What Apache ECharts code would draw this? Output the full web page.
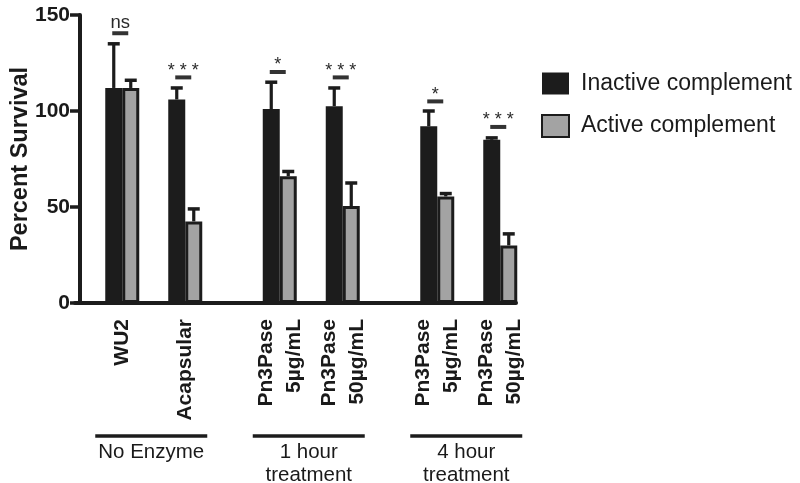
<!DOCTYPE html>
<html>
<head>
<meta charset="utf-8">
<script src="https://cdn.jsdelivr.net/npm/echarts@6/dist/echarts.min.js"></script>
<style>
html,body{margin:0;padding:0;background:#fff;}
#chart{width:800px;height:483px;}
</style>
</head>
<body>
<div id="chart"></div>
<script>
// ---- data ----
const categories = ['', 'WU2', '', 'Acapsular', '', '', 'Pn3Pase\n5µg/mL', '', 'Pn3Pase\n50µg/mL', '', '', 'Pn3Pase\n5µg/mL', '', 'Pn3Pase\n50µg/mL'];
const inactive    = [null, 112, null, 106, null, null, 101, null, 102.5, null, null, 92, null, 85];
const inactiveErr = [null, 135, null, 112, null, null, 115, null, 112, null, null, 100, null, 86];
const active      = [null, 112, null, 42.5, null, null, 66, null, 50.5, null, null, 55.5, null, 30];
const activeErr   = [null, 116, null, 49, null, null, 68.5, null, 62.5, null, null, 57, null, 36];
const sigIndex  = [1, 3, 6, 8, 11, 13];
const sigLevel  = [140.5, 117.5, 120.3, 117.5, 105, 91.7];
const sigLabels = ['ns', '* * *', '*', '* * *', '*', '* * *'];
const groups = [
  {first: 1, last: 3, text: 'No Enzyme'},
  {first: 6, last: 8, text: '1 hour\ntreatment'},
  {first: 11, last: 13, text: '4 hour\ntreatment'}
];
const yTicks = {min: 0, max: 150, interval: 50};

const BAR_W = 17;
const DARK = '#1c1c1c';
const GREY = '#a3a3a3';
const FONT = 'Liberation Sans, Arial, sans-serif';

function errData(vals, errs) {
  const out = [];
  vals.forEach((v, i) => { if (v != null) out.push([i, v, errs[i]]); });
  return out;
}

function errRender(offset) {
  return function (params, api) {
    const base = api.coord([api.value(0), api.value(1)]);
    const top = api.coord([api.value(0), api.value(2)]);
    const x = base[0] + offset;
    return {
      type: 'group',
      children: [
        {type: 'line', shape: {x1: x, y1: base[1], x2: x, y2: top[1]}, style: {stroke: DARK, lineWidth: 3.2}},
        {type: 'line', shape: {x1: x - 6, y1: top[1], x2: x + 6, y2: top[1]}, style: {stroke: DARK, lineWidth: 3.5}}
      ]
    };
  };
}

const chart = echarts.init(document.getElementById('chart'), null, {renderer: 'canvas'});
const option = {
  animation: false,
  backgroundColor: '#ffffff',
  grid: {left: 75, top: 15, width: 441, bottom: 180, containLabel: false, outerBoundsMode: 'none'},
  legend: {
    orient: 'vertical', left: 541, top: 72, padding: 0, itemWidth: 27, itemHeight: 22, itemGap: 19,
    icon: 'rect',
    data: ['Inactive complement', 'Active complement'],
    textStyle: {fontFamily: FONT, fontSize: 23, color: '#1a1a1a', padding: [0, 0, 0, 7]}
  },
  xAxis: [{
    type: 'category', data: categories, boundaryGap: true,
    axisLine: {lineStyle: {color: DARK, width: 4}},
    axisTick: {alignWithLabel: true, length: 10, lineStyle: {color: DARK, width: 3.5},
      interval: function (i, v) { return v !== ''; }},
    axisLabel: {interval: 0, rotate: 90, margin: 16, fontFamily: FONT,
      fontWeight: 'bold', fontSize: 21, lineHeight: 28, color: '#1a1a1a'}
  }, {
    type: 'category', data: categories, boundaryGap: true, position: 'bottom',
    axisLine: {show: false},
    axisTick: {alignWithLabel: true, length: 4, interval: 0, lineStyle: {color: '#555', width: 2}},
    axisLabel: {show: false}
  }],
  yAxis: {
    type: 'value', min: yTicks.min, max: yTicks.max, interval: yTicks.interval, offset: -5,
    name: 'Percent Survival', nameLocation: 'middle', nameGap: 47, nameRotate: 90, nameMoveOverlap: false,
    nameTextStyle: {fontFamily: FONT, fontWeight: 'bold', fontSize: 23.5, color: '#1a1a1a'},
    axisLine: {show: true, lineStyle: {color: DARK, width: 4}},
    axisTick: {show: true, length: 10, lineStyle: {color: DARK, width: 3.5}},
    axisLabel: {margin: 10, fontFamily: FONT, fontWeight: 'bold', fontSize: 21, color: '#1a1a1a'},
    splitLine: {show: false}
  },
  series: [
    {name: 'Inactive complement', type: 'bar', data: inactive, barWidth: BAR_W, barGap: '0%',
      itemStyle: {color: DARK, borderColor: DARK, borderWidth: 0}},
    {name: 'Active complement', type: 'bar', data: active, barWidth: BAR_W, barGap: '0%',
      itemStyle: {color: GREY, borderColor: DARK, borderWidth: 3}},
    {type: 'custom', name: 'errInactive', data: errData(inactive, inactiveErr), renderItem: errRender(-BAR_W / 2), z: 1, silent: true},
    {type: 'custom', name: 'errActive', data: errData(active, activeErr), renderItem: errRender(BAR_W / 2), z: 1, silent: true},
    {type: 'custom', name: 'sig', data: sigIndex.map((c, i) => [c, sigLevel[i]]), z: 5, silent: true,
      renderItem: function (params, api) {
        const p = api.coord([api.value(0), api.value(1)]);
        const x = p[0] - 2;
        const lab = sigLabels[params.dataIndex];
        const isNs = lab === 'ns';
        return {
          type: 'group',
          children: [
            {type: 'rect', shape: {x: x - 8, y: p[1] - 2, width: 16, height: 4}, style: {fill: '#333'}},
            {type: 'text', x: x, y: isNs ? p[1] - 10 : p[1] - 6.5,
              style: {text: lab, fill: '#2a2a2a', fontFamily: FONT,
                fontSize: isNs ? 18.5 : 18, align: 'center', verticalAlign: 'middle'}}
          ]
        };
      }}
  ]
};
chart.setOption(option);

// group annotations beneath the axis, placed from category positions
const gfx = [];
groups.forEach(g => {
  const x1 = chart.convertToPixel({xAxisIndex: 0}, g.first) - 27;
  const x2 = chart.convertToPixel({xAxisIndex: 0}, g.last) + 22;
  gfx.push({type: 'line', shape: {x1: x1, y1: 436, x2: x2, y2: 436}, style: {stroke: DARK, lineWidth: 3.5}});
  gfx.push({type: 'text', x: (x1 + x2) / 2, y: 441,
    style: {text: g.text, fill: '#1a1a1a', fontFamily: FONT, fontSize: 20.5,
      lineHeight: 23, align: 'center', verticalAlign: 'top'}});
});
chart.setOption({graphic: gfx});
</script>
</body>
</html>
